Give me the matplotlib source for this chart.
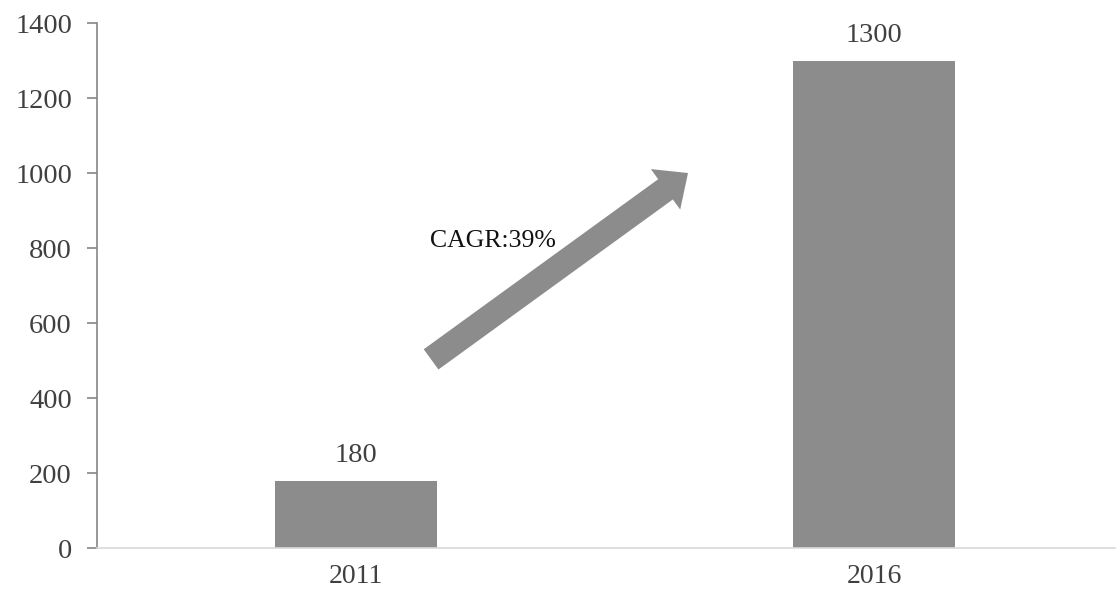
import matplotlib
matplotlib.use("Agg")
import matplotlib.pyplot as plt

# Data
years = ["2011", "2016"]
values = [180, 1300]
cagr_label = "CAGR:39%"
y_ticks = [0, 200, 400, 600, 800, 1000, 1200, 1400]

plt.rcParams["font.family"] = ["Liberation Serif", "DejaVu Serif"]

BAR_COLOR = "#8c8c8c"
TEXT_COLOR = "#404040"

fig = plt.figure(figsize=(11.16, 5.89), dpi=100)
ax = fig.add_axes([0.0869, 0.0696, 0.9283, 0.8913])

x = list(range(len(years)))
bars = ax.bar(x, values, width=0.313, color=BAR_COLOR, zorder=2)

ax.set_xlim(-0.5, 1.5)
ax.set_ylim(0, 1400)
ax.set_xticks(x)
ax.set_xticklabels(years)
ax.set_yticks(y_ticks)

for s in ("top", "right"):
    ax.spines[s].set_visible(False)
ax.spines["left"].set_color("#868686")
ax.spines["left"].set_linewidth(1.2)
ax.spines["bottom"].set_color("#d9d9d9")
ax.spines["bottom"].set_linewidth(1.2)

ax.tick_params(axis="y", length=7, width=1.2, color="#868686", pad=11,
               labelsize=20.5, labelcolor=TEXT_COLOR)
ax.tick_params(axis="x", length=0, pad=11.5, labelsize=20, labelcolor=TEXT_COLOR)

# Value labels above each bar
for xi, v in zip(x, values):
    ax.annotate(str(v), xy=(xi, v), xytext=(0, 13), textcoords="offset points",
                ha="center", va="baseline", fontsize=20.5, color=TEXT_COLOR)

# Growth arrow between the two bars
ax.annotate("", xy=(0.641, 1000), xytext=(0.145, 503),
            arrowprops=dict(arrowstyle="simple,head_width=1.8,head_length=1.0,tail_width=0.9",
                            mutation_scale=20, color=BAR_COLOR, lw=0,
                            shrinkA=0, shrinkB=0), zorder=3)
ax.text(0.265, 819, cagr_label, ha="center", va="center", fontsize=18.5,
        color="#111111", zorder=4)

fig.savefig("out.png", dpi=100)
